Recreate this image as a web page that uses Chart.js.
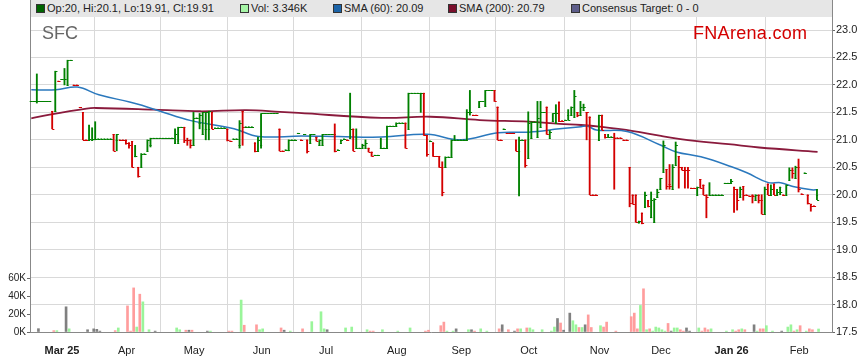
<!DOCTYPE html>
<html lang="en">
<head>
<meta charset="UTF-8">
<title>SFC - FNArena</title>
<style>
  body { margin: 0; background: #fff; font-family: "Liberation Sans", Arial, sans-serif; }
  .wrap { position: relative; width: 859px; height: 363px; }
  #legendBar { position: absolute; left: 30px; top: 0; width: 801px; height: 17px; background: #e6e6e6;
               border-left: 1px solid #888; border-right: 1px solid #888; font-size: 11px; color: #222; }
  .item { position: absolute; top: 1px; line-height: 15px; white-space: nowrap; }
  .sw { position: absolute; left: 0; top: 3px; width: 7px; height: 7px; border: 1px solid #333; }
  .item span.t { position: absolute; left: 11px; top: 0; }
  #ticker { position: absolute; left: 42px; top: 23px; font-size: 18px; color: #666; }
  #brand { position: absolute; left: 693px; top: 23px; font-size: 18px; color: #d40000; letter-spacing: 0.3px; }
</style>
</head>
<body>
<div class="wrap">
  <canvas id="chart" width="859" height="363"></canvas>
  <div id="legendBar">
    <div class="item" style="left:5px"><i class="sw" style="background:#006400"></i><span class="t">Op:20, Hi:20.1, Lo:19.91, Cl:19.91</span></div>
    <div class="item" style="left:209px"><i class="sw" style="background:#a6f5a6"></i><span class="t">Vol: 3.346K</span></div>
    <div class="item" style="left:302px"><i class="sw" style="background:#1c64a8"></i><span class="t">SMA (60): 20.09</span></div>
    <div class="item" style="left:417px"><i class="sw" style="background:#7a0f2c"></i><span class="t">SMA (200): 20.79</span></div>
    <div class="item" style="left:540px"><i class="sw" style="background:#5d5d8a"></i><span class="t">Consensus Target: 0 - 0</span></div>
  </div>
  <div id="ticker">SFC</div>
  <div id="brand">FNArena.com</div>
</div>

<script src="https://cdn.jsdelivr.net/npm/chart.js"></script>
<script>
// trading day index 0 = 17 Feb 2025 (weekdays only)
const monthIdx = [10, 31, 53, 75, 96, 119, 140, 162, 185, 205, 228, 250];
const monthLabels = ['Mar 25', 'Apr', 'May', 'Jun', 'Jul', 'Aug', 'Sep', 'Oct', 'Nov', 'Dec', 'Jan 26', 'Feb'];

// daily bars: a single number = no range (open = high = low = close), else [open, high, low, close]
const ohlc = [
  21.7, 21.7, [21.7,22.2,21.67,21.7], 21.7, 21.7, 21.7, 21.7, [21.52,21.52,21.2,21.2], [21.52,22.25,21.52,22.25], 22.07,
  22.1, [22.1,22.3,22.0,22.1], [22.0,22.45,22.0,22.45], 22.45, 22.0, 22.0, 21.59, [21.5,21.5,21.0,21.0], 21.0, [21.0,21.27,21.0,21.02],
  [21.0,21.22,21.0,21.02], [21.02,21.33,21.0,21.02], 21.02, 21.02, 21.02, 21.02, 21.02, [21.1,21.1,20.8,20.8], [21.0,21.1,20.8,21.1], 21.0,
  21.0, [21.0,21.0,20.92,20.95], [20.95,20.95,20.85,20.9], [20.97,20.97,20.5,20.5], [20.7,20.9,20.69,20.7], [20.5,20.5,20.32,20.35], [20.51,20.75,20.51,20.75], 20.75, [20.8,21.0,20.8,21.0], [20.9,21.03,20.87,21.03],
  21.03, 21.03, 21.03, 21.03, 21.03, 21.03, 21.03, [20.94,21.2,20.94,21.1], [20.95,21.23,20.95,21.23], 21.23,
  [21.23,21.23,20.95,21.0], [21.0,21.03,20.9,21.0], [21.0,21.0,20.85,20.9], [20.9,21.5,20.9,21.4], 21.4, [21.3,21.48,21.2,21.45], [21.1,21.5,21.1,21.5], [21.2,21.5,21.0,21.5], [21.2,21.52,21.0,21.52], [21.5,21.5,21.2,21.2],
  21.22, 21.22, 21.22, 21.22, [21.2,21.2,20.98,21.0], 20.98, 21.02, 21.02, [20.9,21.35,20.85,21.3], [21.52,21.52,20.9,21.23],
  21.24, 21.24, 21.24, [20.95,20.95,20.78,20.8], [20.8,21.05,20.8,21.0], [20.9,21.48,20.85,21.48], 21.48, 21.48, 21.48, 21.48,
  21.48, [21.2,21.2,20.8,20.8], 20.8, 20.82, [20.82,21.0,20.8,21.0], 21.0, 21.0, 21.12, 21.0, 21.1,
  [21.0,21.0,20.76,20.8], [20.94,21.1,20.94,21.1], 21.1, [21.05,21.05,20.98,20.98], [20.9,21.0,20.9,21.0], [20.9,21.1,20.9,21.1], 21.1, 21.1, 21.1, [21.1,21.29,20.78,20.8],
  20.82, [20.95,21.0,20.95,21.0], 21.02, 21.0, [21.03,21.85,21.03,21.2], [21.2,21.2,20.8,20.8], [20.85,21.2,20.85,20.85], 20.85, [20.85,20.92,20.85,20.9], [20.85,21.0,20.85,20.95],
  [20.85,20.85,20.78,20.78], [20.78,20.78,20.7,20.7], 20.72, 20.72, [20.85,21.03,20.85,20.85], 20.85, [20.85,21.25,20.85,21.25], 21.25, 21.25, [21.25,21.31,21.25,21.31],
  21.31, 21.31, [21.31,21.31,20.85,20.85], [21.2,21.85,21.2,21.85], 21.85, 21.85, 21.85, [21.85,21.85,21.5,21.85], [21.85,21.85,21.08,21.08], [21.08,21.08,20.7,20.75],
  20.98, [20.95,20.95,20.7,20.7], 20.7, [20.7,20.7,20.5,20.5], [20.5,20.6,19.98,20.05], [20.5,20.69,20.5,20.69], 20.69, [20.69,21.0,20.69,21.0], [21.0,21.08,21.0,21.0], 21.0,
  21.0, 21.0, [21.0,21.55,21.0,21.5], [21.5,21.9,21.45,21.5], 21.45, 21.45, [21.6,21.7,21.6,21.7], 21.7, [21.62,21.9,21.62,21.9], 21.9,
  21.9, [21.9,21.9,21.7,21.7], [21.6,21.6,21.0,21.0], 21.0, 21.2, 21.12, 21.12, 21.12, [21.0,21.0,20.8,20.8], [20.8,21.05,19.98,21.0],
  21.0, [21.0,21.0,20.5,20.55], [20.66,21.51,20.66,21.3], [21.03,21.33,21.03,21.33], 21.33, [21.05,21.7,21.05,21.4], [21.23,21.7,21.23,21.5], 21.5, [21.6,21.6,21.1,21.1], [21.04,21.17,21.04,21.15],
  [21.34,21.48,21.34,21.48], [21.31,21.64,21.31,21.48], [21.69,21.69,21.33,21.35], 21.35, 21.36, [21.45,21.55,21.36,21.36], [21.45,21.6,21.45,21.6], [21.42,21.9,21.42,21.8], [21.5,21.5,21.42,21.45], [21.45,21.7,21.45,21.6],
  [21.55,21.65,21.55,21.6], [21.5,21.5,21.0,21.5], [21.42,21.42,20.0,20.0], 20.0, 20.0, [21.0,21.45,21.0,21.45], [21.45,21.45,21.18,21.18], [21.1,21.1,21.03,21.05], [21.05,21.1,21.05,21.06], 21.06,
  [21.06,21.12,20.1,21.04], 21.04, 21.04, 21.0, 21.0, [20.5,20.5,19.78,19.85], [20.0,20.0,19.83,19.83], [20.0,20.0,19.5,19.5], [19.5,19.52,19.48,19.52], [19.67,19.67,19.47,19.48],
  [19.78,20.05,19.78,20.0], [19.9,19.9,19.78,19.8], [19.6,20.05,19.58,19.9], [19.5,19.93,19.5,19.93], [19.95,20.1,19.95,20.05], [20.1,20.3,20.1,20.3], [20.42,20.98,20.42,20.9], [20.46,20.46,20.1,20.15], [20.2,20.55,20.1,20.15], [20.1,20.55,20.1,20.5],
  [20.54,20.96,20.54,20.9], [20.7,20.7,20.12,20.5], [20.5,20.5,20.45,20.45], [20.45,20.5,20.12,20.45], [20.45,20.5,20.12,20.45], 20.12, 20.12, [20.0,20.14,20.0,20.14], [20.28,20.28,20.12,20.12], [20.18,20.18,20.0,20.0],
  [20.0,20.0,19.58,19.95], [20.0,20.22,20.0,20.0], 20.0, 20.0, 20.0, 20.0, 20.21, 20.21, [20.21,20.28,20.21,20.25], [20.14,20.14,19.68,20.1],
  [20.1,20.1,19.72,19.9], [19.95,20.14,19.95,20.1], [20.15,20.15,19.9,20.0], 20.0, 19.98, [20.0,20.0,19.85,19.98], [19.9,20.0,19.9,20.0], [20.0,20.0,19.85,19.9], [19.9,20.0,19.65,19.65], [19.65,20.14,19.65,20.1],
  [20.2,20.2,20.0,20.0], [20.0,20.18,20.0,20.1], [20.2,20.2,20.0,20.0], [20.0,20.1,20.0,20.05], [20.14,20.14,20.0,20.05], 20.0, [20.0,20.18,20.0,20.18], [20.27,20.49,20.27,20.45], [20.45,20.49,20.3,20.4], [20.3,20.52,20.3,20.5],
  [20.5,20.65,20.05,20.1], 20.02, 20.4, [20.0,20.0,19.83,19.85], [19.83,19.83,19.7,19.8], 19.8, [20.0,20.1,19.91,19.91]
];

// daily volume, thousands of shares
const volumesK = [
  0, 0, 3.7, 0, 0, 0, 0, 1.5, 1.5, 0,
  0, 28, 3.5, 0, 0, 0, 0, 0, 2.5, 0,
  3.5, 3, 1, 0, 0, 0, 0, 1.5, 4.5, 0,
  0, 29, 1, 49, 5.5, 42, 33.5, 0, 2.5, 0,
  1, 0, 0, 0, 0, 0, 0, 4.5, 2.5, 0,
  2, 2, 2, 0, 0, 0, 0, 1, 1, 0,
  0, 0, 0, 0, 1, 1, 0, 0, 35.5, 7.5,
  0, 0, 0, 8, 2.5, 3.5, 0, 0, 0, 0,
  0, 4.5, 2, 0, 1, 0, 0, 0, 3.5, 0,
  0, 11.5, 0, 0, 22.5, 3.5, 2.5, 0, 0, 0,
  0, 0, 4.5, 0, 5.5, 0, 0, 0, 0, 2.5,
  1, 1, 0, 0, 2.5, 0, 0, 0, 0, 1,
  0, 0, 0, 4.5, 0, 0, 0, 0, 1, 2,
  0, 0, 0, 7, 11, 1, 0, 1, 3.5, 0,
  0, 0, 2.5, 2.5, 1, 0, 3.5, 0, 1, 0,
  0, 0, 3.5, 8, 0, 2.5, 0, 1, 3.5, 3.5,
  0, 4.5, 4.5, 2.5, 0, 0, 2.5, 0, 0, 1,
  5.5, 15, 10, 2, 0, 21, 12.5, 8, 5, 5,
  8, 19, 5, 0, 0, 7, 5.5, 11, 0, 0,
  1, 0, 0, 0, 0, 17, 21, 3.5, 29.5, 48,
  2.5, 3.5, 1, 5.5, 4.5, 2.5, 1, 9.5, 1, 4.5,
  4.5, 2.5, 1, 4.5, 1, 0, 0, 4.5, 1, 4.5,
  2.5, 3.5, 0, 0, 0, 0, 1, 0, 2.5, 1,
  2.5, 3.5, 2.5, 0, 0, 8, 1, 3.5, 3.5, 7,
  0, 1, 0, 0, 1, 0, 5.5, 8, 1, 2.5,
  7, 0, 1, 3.5, 2.5, 0, 3.346
];

// moving averages (day index, value)
const sma60Days = [0, 8, 15, 22, 32, 36, 42, 52, 66, 74, 88, 100, 114, 129, 140, 152, 162, 172, 179, 181, 184, 194, 205, 210, 218, 228, 233, 240, 244, 248, 254, 256];
const sma60Vals = [21.91, 21.91, 21.96, 21.82, 21.69, 21.63, 21.52, 21.35, 21.2, 21.06, 21.07, 21.06, 21.05, 21.1, 21.0, 21.13, 21.14, 21.2, 21.24, 21.25, 21.18, 21.15, 20.9, 20.78, 20.69, 20.51, 20.4, 20.22, 20.22, 20.15, 20.09, 20.09];
const sma200Days = [0, 6, 18, 21, 40, 55, 70, 81, 87, 114, 130, 146, 162, 172, 179, 185, 196, 205, 216, 227, 237, 256];
const sma200Vals = [21.39, 21.46, 21.57, 21.58, 21.55, 21.52, 21.54, 21.51, 21.49, 21.4, 21.42, 21.36, 21.33, 21.29, 21.27, 21.24, 21.16, 21.07, 20.98, 20.92, 20.86, 20.78];

const volTicks = [0, 20000, 40000, 60000];

const UP = '#008000', DOWN = '#d40000';
const VOL_UP = '#9af59a', VOL_DOWN = '#ff9d9d', VOL_FLAT = '#808080';

const bars = ohlc.map(r => typeof r === 'number' ? [r, r, r, r] : r);

// colour each day against the previous close
const barColors = [], volColors = [];
let prevClose = null, prevColor = UP;
bars.forEach(b => {
  const c = b[3];
  let col = prevColor, vcol = VOL_FLAT;
  if (prevClose !== null && c > prevClose) { col = UP; vcol = VOL_UP; }
  else if (prevClose !== null && c < prevClose) { col = DOWN; vcol = VOL_DOWN; }
  barColors.push(col);
  volColors.push(vcol);
  prevClose = c;
  prevColor = col;
});

Chart.defaults.font.family = '"Liberation Sans", Arial, sans-serif';

// open tick on the left, close tick on the right
const ohlcTicks = {
  id: 'ohlcTicks',
  afterDatasetsDraw(chart) {
    const xs = chart.scales.x, ys = chart.scales.y, ctx = chart.ctx;
    ctx.save();
    ctx.lineWidth = 1;
    bars.forEach((b, i) => {
      const px = xs.getPixelForValue(i);
      const po = Math.round(ys.getPixelForValue(b[0])) + 0.5;
      const pc = Math.round(ys.getPixelForValue(b[3])) + 0.5;
      ctx.strokeStyle = barColors[i];
      ctx.beginPath();
      ctx.moveTo(px - 1.6, po); ctx.lineTo(px + 0.5, po);
      ctx.moveTo(px - 0.5, pc); ctx.lineTo(px + 1.6, pc);
      ctx.stroke();
    });
    ctx.restore();
  }
};

new Chart(document.getElementById('chart'), {
  type: 'bar',
  data: {
    datasets: [
      {
        label: 'Price',
        data: bars.map((b, i) => ({ x: i, y: [b[2], b[1]] })),
        backgroundColor: barColors,
        borderWidth: 0,
        barThickness: 1.2,
        yAxisID: 'y',
        order: 1
      },
      {
        type: 'line',
        label: 'SMA (60)',
        data: sma60Days.map((d, i) => ({ x: d, y: sma60Vals[i] })),
        borderColor: '#2a78bd',
        borderWidth: 1.5,
        pointRadius: 0,
        tension: 0.4,
        yAxisID: 'y',
        order: 2
      },
      {
        type: 'line',
        label: 'SMA (200)',
        data: sma200Days.map((d, i) => ({ x: d, y: sma200Vals[i] })),
        borderColor: '#8a1a3c',
        borderWidth: 1.8,
        pointRadius: 0,
        tension: 0.4,
        yAxisID: 'y',
        order: 3
      },
      {
        label: 'Volume',
        data: volumesK.map((v, i) => ({ x: i, y: v > 0 ? v * 1000 : null })),
        backgroundColor: volColors,
        borderWidth: 0,
        barThickness: 2,
        yAxisID: 'yVol',
        order: 4
      }
    ]
  },
  options: {
    responsive: false,
    animation: false,
    layout: { padding: { top: 17, left: 0, right: 0, bottom: 0 } },
    plugins: { legend: { display: false }, tooltip: { enabled: false } },
    scales: {
      x: {
        type: 'linear',
        min: -0.42,
        max: 260.7,
        offset: false,
        grid: { color: '#d9d9d9', tickLength: 4, tickColor: 'transparent' },
        border: { color: '#888' },
        afterBuildTicks: s => { s.ticks = monthIdx.map(v => ({ value: v })); },
        afterFit: s => { s.height = 31; },
        ticks: {
          autoSkip: false,
          maxRotation: 0,
          padding: 8,
          color: '#222',
          font: ctx => ({ size: 11, weight: (monthLabels[ctx.index] || '').includes(' ') ? 'bold' : 'normal' }),
          callback: (v, i) => monthLabels[i]
        }
      },
      y: {
        position: 'right',
        min: 17.5,
        max: 23.237,
        grid: { color: '#d9d9d9', tickLength: 3, tickColor: '#666' },
        border: { color: '#888' },
        afterFit: s => { s.width = 27; },
        ticks: { stepSize: 0.5, includeBounds: false, padding: 1, color: '#222', font: { size: 11 }, callback: v => v.toFixed(1) }
      },
      yVol: {
        position: 'left',
        min: 0,
        max: 350000,
        grid: { drawOnChartArea: false, tickLength: 3, tickColor: '#666' },
        border: { color: '#888' },
        afterBuildTicks: s => { s.ticks = volTicks.map(v => ({ value: v })); },
        afterFit: s => { s.width = 30; },
        ticks: { padding: 1, color: '#222', font: { size: 10 }, callback: v => (v / 1000) + 'K' }
      }
    }
  },
  plugins: [ohlcTicks]
});
</script>
</body>
</html>
